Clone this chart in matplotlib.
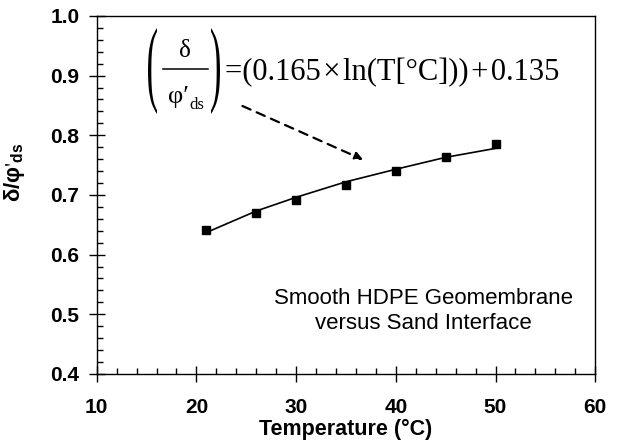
import numpy as np
import matplotlib
matplotlib.use('Agg')
import matplotlib.pyplot as plt
from matplotlib.ticker import MultipleLocator, FormatStrFormatter
from matplotlib.textpath import TextPath
from matplotlib.patches import PathPatch
from matplotlib.font_manager import FontProperties
from matplotlib.transforms import Affine2D
from matplotlib.lines import Line2D

plt.rcParams['font.family'] = ['Liberation Sans', 'DejaVu Sans']
plt.rcParams['mathtext.fontset'] = 'stix'

# measured points
temp = [21, 26, 30, 35, 40, 45, 50]
ratio = [0.641, 0.669, 0.692, 0.717, 0.740, 0.763, 0.785]

# fitted curve
fit_temp = [21, 26, 30, 35, 40, 45, 50]
fit_ratio = [0.637, 0.673, 0.696, 0.722, 0.743, 0.763, 0.778]

W, H = 620, 443
fig = plt.figure(figsize=(W / 100, H / 100), dpi=100)
ax = fig.add_axes([0.156, 0.156, 0.804, 0.808])

ax.plot(fit_temp, fit_ratio, color='black', lw=1.2)
ax.plot(temp, ratio, ls='none', marker='s', ms=5.5, color='black')

ax.set_xlim(10, 60)
ax.set_ylim(0.4, 1.0)
ax.xaxis.set_major_locator(MultipleLocator(10))
ax.xaxis.set_minor_locator(MultipleLocator(2))
ax.yaxis.set_major_locator(MultipleLocator(0.1))
ax.yaxis.set_minor_locator(MultipleLocator(0.02))
ax.yaxis.set_major_formatter(FormatStrFormatter('%.1f'))
ax.tick_params(which='major', direction='inout', length=11, width=1, labelsize=15)
ax.tick_params(axis='x', which='major', pad=12)
ax.tick_params(axis='y', which='major', pad=7)
ax.tick_params(which='minor', direction='in', length=4.5, width=1)
for lab in ax.get_xticklabels() + ax.get_yticklabels():
    lab.set_fontweight('bold')
for s in ax.spines.values():
    s.set_linewidth(1)

ax.set_xlabel('Temperature (°C)', fontsize=15.5, fontweight='bold', labelpad=1)
ax.set_ylabel("δ/φ$'_\\mathregular{ds}$", fontsize=16, fontweight='bold')
ax.yaxis.set_label_coords(-0.14, 0.564)

# equation, laid out in figure pixels (from top-left)
serif_fam = ['Liberation Serif', 'DejaVu Serif']
serif = FontProperties(family='Liberation Serif')


def fx(px):
    return px / W


def fy(py):
    return 1 - py / H


def tall_paren(ch, x0, x1, y_top, y_bot):
    p = TextPath((0, 0), ch, size=1, prop=serif)
    e = p.get_extents()
    tr = (Affine2D().translate(-e.x0, -e.y0)
          .scale((x1 - x0) / e.width, (y_bot - y_top) / e.height)
          .translate(x0, H - y_bot))
    fig.add_artist(PathPatch(p, transform=tr, facecolor='black', lw=0))


tall_paren('(', 148, 157, 28, 114)
tall_paren(')', 211, 220, 28, 114)
fig.text(fx(185), fy(51), 'δ', family=serif_fam, fontsize=18,
         ha='center', va='center')
fig.add_artist(Line2D([fx(163), fx(208)], [fy(69), fy(69)], color='black', lw=1.1))
fig.text(fx(189), fy(103), 'φ′', family=serif_fam, fontsize=19,
         ha='right', va='baseline')
fig.text(fx(189), fy(109), 'ds', family=serif_fam, fontsize=12,
         ha='left', va='baseline')
fig.text(fx(225), fy(80), '=(0.165\u200a×\u200aln(T[°C]))\u200a+\u200a0.135',
         family=serif_fam, fontsize=22, ha='left', va='baseline')

ax.annotate('', xy=(36.98, 0.757), xytext=(24.36, 0.851),
            arrowprops=dict(arrowstyle='-|>', ls=(0, (4, 3)), color='black',
                            lw=1.6, mutation_scale=12))

ax.text(42.8, 0.506, 'Smooth HDPE Geomembrane\nversus Sand Interface',
        fontsize=16, ha='center', va='center', linespacing=1.25)

fig.savefig('out.png', dpi=100)
